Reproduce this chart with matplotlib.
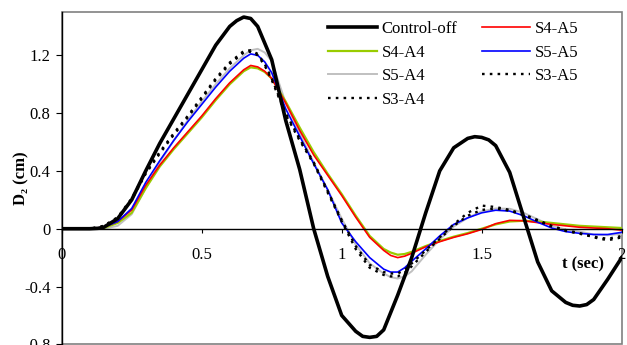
import matplotlib
matplotlib.use("Agg")
import matplotlib.pyplot as plt
from matplotlib.patches import Rectangle

plt.rcParams['font.family'] = ['Liberation Serif', 'DejaVu Serif']
plt.rcParams['font.size'] = 12

# time grid (s)
t = [0.00, 0.05, 0.10, 0.15, 0.20, 0.25, 0.30, 0.35, 0.40, 0.45,
     0.50, 0.55, 0.60, 0.65, 0.675, 0.70, 0.725, 0.75, 0.80, 0.85, 0.90, 0.95,
     1.00, 1.05, 1.10, 1.15, 1.175, 1.20, 1.225, 1.25, 1.30, 1.35, 1.40, 1.45,
     1.50, 1.55, 1.60, 1.65, 1.70, 1.75, 1.80, 1.85, 1.90, 1.95, 2.00]

# Control-off sampled more densely
t_off = [0.00, 0.05, 0.10, 0.13, 0.15, 0.20, 0.25, 0.30, 0.35, 0.40, 0.45,
         0.50, 0.55, 0.60, 0.625, 0.65, 0.675, 0.70, 0.75, 0.80, 0.85, 0.90, 0.95,
         1.00, 1.05, 1.075, 1.10, 1.125, 1.15, 1.20, 1.25, 1.30, 1.35, 1.40, 1.45,
         1.475, 1.50, 1.525, 1.55, 1.60, 1.65, 1.70, 1.75, 1.80, 1.825, 1.85,
         1.875, 1.90, 1.95, 2.00]
control_off = [0.00, 0.00, 0.00, 0.003, 0.01, 0.07, 0.20, 0.40, 0.59, 0.76, 0.93,
               1.10, 1.27, 1.40, 1.44, 1.465, 1.455, 1.40, 1.17, 0.75, 0.41, 0.00, -0.33,
               -0.60, -0.71, -0.745, -0.752, -0.745, -0.70, -0.46, -0.20, 0.11, 0.40, 0.56, 0.625,
               0.637, 0.632, 0.615, 0.575, 0.39, 0.08, -0.23, -0.43, -0.51, -0.53, -0.535,
               -0.525, -0.49, -0.35, -0.20]

s4_a5 = [0.00, 0.00, 0.00, 0.01, 0.05, 0.13, 0.30, 0.44, 0.56, 0.67,
         0.78, 0.90, 1.01, 1.10, 1.13, 1.12, 1.09, 1.04, 0.87, 0.68, 0.51, 0.37,
         0.23, 0.08, -0.06, -0.15, -0.185, -0.20, -0.19, -0.17, -0.125, -0.09, -0.06, -0.035,
         -0.005, 0.035, 0.058, 0.055, 0.042, 0.03, 0.02, 0.01, 0.005, 0.00, -0.01]

s4_a4 = [0.00, 0.00, 0.00, 0.005, 0.04, 0.11, 0.28, 0.43, 0.55, 0.66,
         0.77, 0.89, 1.00, 1.09, 1.117, 1.11, 1.085, 1.04, 0.88, 0.70, 0.53, 0.38,
         0.24, 0.09, -0.05, -0.14, -0.165, -0.18, -0.175, -0.16, -0.12, -0.085, -0.055, -0.03,
         0.00, 0.03, 0.05, 0.055, 0.05, 0.04, 0.03, 0.02, 0.015, 0.01, 0.005]

s5_a5 = [0.00, 0.00, 0.00, 0.01, 0.05, 0.14, 0.32, 0.47, 0.61, 0.74,
         0.86, 0.98, 1.09, 1.18, 1.21, 1.20, 1.155, 1.08, 0.83, 0.64, 0.45, 0.27,
         0.04, -0.09, -0.20, -0.28, -0.30, -0.30, -0.27, -0.225, -0.14, -0.05, 0.03, 0.075,
         0.11, 0.128, 0.122, 0.09, 0.045, 0.005, -0.02, -0.032, -0.04, -0.04, -0.025]

s5_a4 = [0.00, 0.00, 0.00, 0.00, 0.02, 0.10, 0.28, 0.46, 0.61, 0.75,
         0.88, 1.00, 1.11, 1.20, 1.235, 1.245, 1.22, 1.16, 0.87, 0.66, 0.46, 0.27,
         0.07, -0.11, -0.24, -0.31, -0.335, -0.345, -0.33, -0.295, -0.18, -0.075, 0.015, 0.075,
         0.12, 0.14, 0.138, 0.11, 0.065, 0.02, -0.005, -0.02, -0.04, -0.045, -0.035]

s3_a5 = [0.00, 0.00, 0.00, 0.02, 0.08, 0.21, 0.39, 0.53, 0.66, 0.78,
         0.91, 1.04, 1.15, 1.23, 1.235, 1.21, 1.14, 1.04, 0.80, 0.62, 0.46, 0.26,
         0.06, -0.12, -0.25, -0.30, -0.31, -0.31, -0.285, -0.24, -0.15, -0.06, 0.03, 0.11,
         0.16, 0.15, 0.13, 0.10, 0.06, 0.02, -0.01, -0.03, -0.06, -0.08, -0.06]

s3_a4 = [0.00, 0.00, 0.00, 0.015, 0.07, 0.20, 0.38, 0.52, 0.65, 0.77,
         0.90, 1.03, 1.14, 1.22, 1.225, 1.20, 1.13, 1.03, 0.79, 0.61, 0.45, 0.25,
         0.05, -0.14, -0.27, -0.32, -0.33, -0.33, -0.305, -0.26, -0.16, -0.07, 0.02, 0.09,
         0.13, 0.14, 0.125, 0.095, 0.055, 0.015, -0.015, -0.035, -0.055, -0.07, -0.05]

x_ticks = [0, 0.5, 1, 1.5, 2]
x_ticklabels = ['0', '0.5', '1', '1.5', '2']
y_ticks = [-0.8, -0.4, 0, 0.4, 0.8, 1.2]
y_ticklabels = ['-0.8', '-0.4', '0', '0.4', '0.8', '1.2']

fig = plt.figure(figsize=(6.27, 3.45), dpi=100)
ax = fig.add_axes([61.7 / 627, 0.7 / 345, 560 / 627, 332.3 / 345])
ax.set_xlim(0, 2)
ax.set_ylim(-0.8, 1.5)

dot = (0, (1.1, 2.2))
h_s5a4, = ax.plot(t, s5_a4, color='#c0c0c0', lw=1.4, label='S5-A4')
h_s4a4, = ax.plot(t, s4_a4, color='#99cc00', lw=1.6, label='S4-A4')
h_s4a5, = ax.plot(t, s4_a5, color='#ff0000', lw=1.2, label='S4-A5')
h_s5a5, = ax.plot(t, s5_a5, color='#0000ff', lw=1.2, label='S5-A5')
h_s3a5, = ax.plot(t, s3_a5, color='black', lw=1.7, ls=dot, label='S3-A5')
h_s3a4, = ax.plot(t, s3_a4, color='black', lw=1.7, ls=dot, label='S3-A4')
h_off, = ax.plot(t_off, control_off, color='black', lw=2.6, label='Control-off')

# axes styling
for s in ['top', 'right']:
    ax.spines[s].set_visible(False)
ax.spines['bottom'].set_position(('data', 0))
ax.spines['bottom'].set_color('black')
ax.spines['bottom'].set_linewidth(1.0)
ax.spines['left'].set_linewidth(1.0)
ax.add_patch(Rectangle((0, 0), 1, 1, transform=ax.transAxes, fill=False,
                       edgecolor='#808080', lw=1.2, clip_on=False, zorder=0.5))

ax.set_xticks(x_ticks)
ax.set_xticklabels(x_ticklabels)
ax.set_yticks(y_ticks)
ax.set_yticklabels(y_ticklabels)
ax.tick_params(axis='x', direction='out', length=3, width=0.8, pad=10, labelsize=12)
ax.tick_params(axis='y', direction='out', length=4, width=0.8, pad=4, labelsize=12)

ax.set_ylabel('D₂ (cm)', fontweight='bold', fontsize=12)
ax.yaxis.set_label_coords(-0.057, 0.5)
ax.text(1.86, -0.25, 't (sec)', ha='center', va='center', fontweight='bold', fontsize=12)

handles = [h_off, h_s4a4, h_s5a4, h_s3a4, h_s4a5, h_s5a5, h_s3a5]
ax.legend(handles=handles, labels=[h.get_label() for h in handles], ncol=2,
          loc='upper left', bbox_to_anchor=(0.476, 0.972), frameon=False,
          borderpad=0, borderaxespad=0, handlelength=2.9, handletextpad=0.3,
          columnspacing=1.45, labelspacing=0.45, fontsize=12)

fig.savefig('out.png', dpi=100)
